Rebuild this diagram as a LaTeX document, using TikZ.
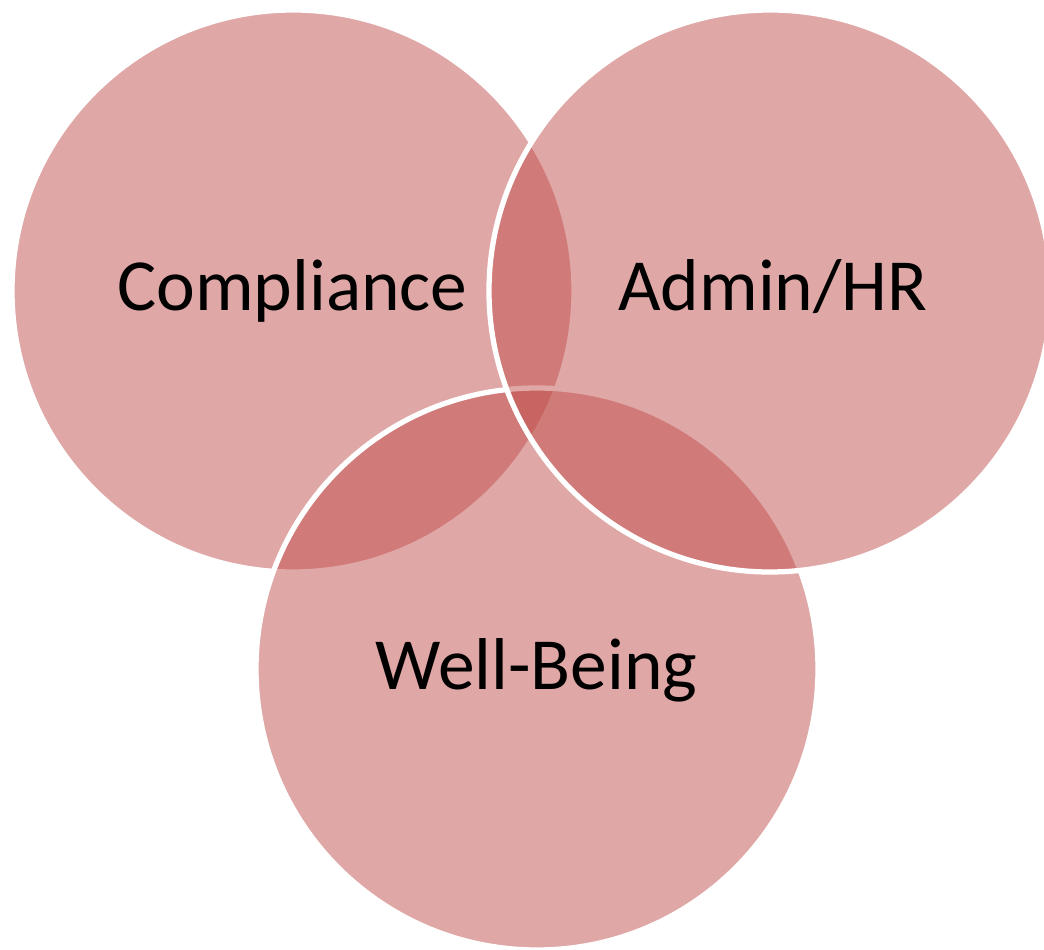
\documentclass[tikz,border=0pt]{standalone}
\usepackage{fontspec}
\setmainfont{Carlito}
\definecolor{vennred}{HTML}{C0504D}
\newcommand{\vennset}[3]{ \node[shape=circle,draw=white,line width=1.5pt,fill=vennred,fill opacity=0.5,minimum size=5.62cm,inner sep=0pt] (#1) at ( #2 , #3 ) {};}
\newcommand{\vennlabel}[4]{\node[anchor=base,inner sep=0pt,font=\fontsize{20.9}{25}\selectfont] (#1) at ( #2 , #3 ) {#4};}

\begin{document}
\begin{tikzpicture}
        \useasboundingbox (0,0) rectangle (10.44,-9.50);

        % sets
        \vennset{compliance}{2.93}{-2.91}
        \vennset{wellbeing}{5.37}{-6.69}
        \vennset{adminhr}{7.70}{-2.91}

        % labels
        \vennlabel{complianceText}{2.925}{-3.11}{Compliance}
        \vennlabel{adminhrText}{7.73}{-3.11}{Admin/HR}
        \vennlabel{wellbeingText}{5.365}{-6.90}{Well-Being}

    \end{tikzpicture}
\end{document}
